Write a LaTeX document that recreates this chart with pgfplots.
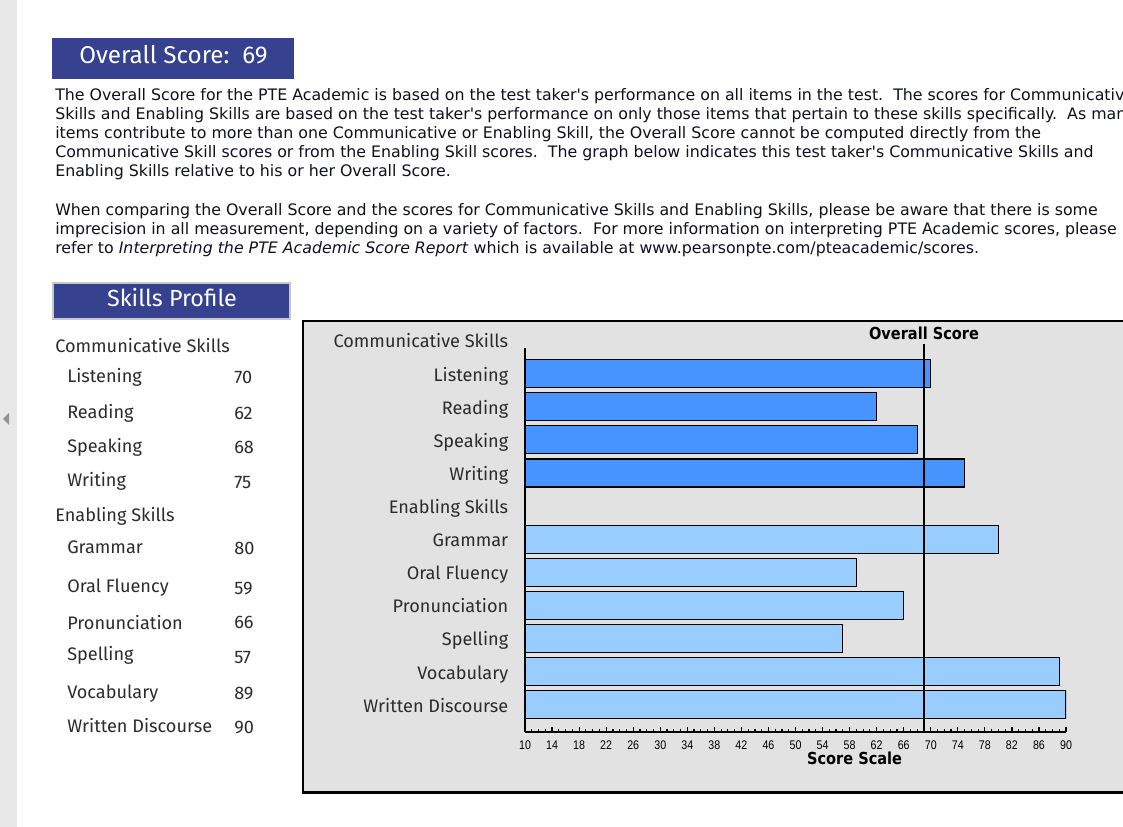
\documentclass[border=0pt]{standalone}
\usepackage{fontspec}
\usepackage{pgfplots}
\pgfplotsset{compat=1.18}
\setmainfont{DejaVu Sans}
\newfontfamily\tre{Fira Sans}
\newfontfamily\tah{DejaVu Sans}
\newfontfamily\tahb{DejaVu Sans}[FakeStretch=0.88]
\newfontfamily\ari{Liberation Sans}[FakeStretch=0.85]
\newcommand\fs[1]{\fontsize{#1}{#1}\selectfont}
\definecolor{hdr}{HTML}{364190}
\definecolor{panel}{HTML}{E2E2E2}
\definecolor{dk}{HTML}{4894FF}
\definecolor{lt}{HTML}{99CCFF}
\definecolor{lab}{HTML}{2C2C2C}
\definecolor{para}{HTML}{10101E}
\definecolor{strip}{HTML}{E8E8E8}
\definecolor{bord}{HTML}{C8C8C8}
\begin{document}
\begin{tikzpicture}[x=0.75pt,y=0.75pt]
\path[use as bounding box] (0,0) rectangle (1123,827);
\clip (0,0) rectangle (1123,827);
\fill[white] (0,0) rectangle (1123,827);
\fill[strip] (0,0) rectangle (17,827);
\fill[gray!85] (3,408) -- (9,414) -- (9,402) -- cycle;
% header
\fill[hdr] (52,789) rectangle (294,748);
\node[anchor=base, text=white, font=\tre\fs{18.2}, inner sep=0] at (173.5,763.7) {Overall Score:\ \ 69};
% paragraphs
\begin{scope}[every node/.style={anchor=base west, inner sep=0, font=\tah\fs{11.85}, text=para}]
\node at (55,726) {The Overall Score for the PTE Academic is based on the test taker's performance on all items in the test.\ \ The scores for Communicative};
\node at (55,707) {Skills and Enabling Skills are based on the test taker's performance on only those items that pertain to these skills specifically.\ \ As many};
\node at (55,688) {items contribute to more than one Communicative or Enabling Skill, the Overall Score cannot be computed directly from the};
\node at (55,669) {Communicative Skill scores or from the Enabling Skill scores.\ \ The graph below indicates this test taker's Communicative Skills and};
\node at (55,650) {Enabling Skills relative to his or her Overall Score.};
\node at (55,611) {When comparing the Overall Score and the scores for Communicative Skills and Enabling Skills, please be aware that there is some};
\node at (55,592) {imprecision in all measurement, depending on a variety of factors.\ \ For more information on interpreting PTE Academic scores, please};
\node at (55,573) {refer to \textit{Interpreting the PTE Academic Score Report} which is available at www.pearsonpte.com/pteacademic/scores.};
\end{scope}
% skills profile box
\filldraw[fill=hdr, draw=bord, line width=1.5pt] (52.7,544.3) rectangle (290,508);
\node[anchor=base, text=white, font=\tre\fs{17.5}, inner sep=0] at (172,520) {Skills Profile};
% left table
\begin{scope}[every node/.style={anchor=base west, inner sep=0, font=\tre\fs{13.6}, text=lab}]
\node at (55,474) {Communicative Skills};
\node at (55,305.5) {Enabling Skills};
\node at (67,444) {Listening};        \node at (234,443.7) {70};
\node at (67,408.5) {Reading};        \node at (234,407.5) {62};
\node at (67,374.5) {Speaking};       \node at (234,373.5) {68};
\node at (67,340.5) {Writing};        \node at (234,338.5) {75};
\node at (67,273.5) {Grammar};        \node at (234,272.5) {80};
\node at (67,234.5) {Oral Fluency};   \node at (234,232.5) {59};
\node at (67,197.7) {Pronunciation};  \node at (234,198) {66};
\node at (67,166) {Spelling};         \node at (234,163.7) {57};
\node at (67,128) {Vocabulary};       \node at (234,127) {89};
\node at (67,94.3) {Written Discourse}; \node at (234,93) {90};
\end{scope}
% chart panel
\filldraw[fill=panel, draw=black, line width=1.8pt] (302.8,505.8) rectangle (1135,34.5);
\coordinate (A) at (525,95.3);
\begin{axis}[
  at={(A)}, anchor=south west,
  x=5.0719pt, y=24.825pt,
  xmin=10, xmax=90, ymin=-10.816, ymax=0.785,
  axis x line*=bottom, axis y line*=left,
  axis line style={line width=1.5pt},
  xtick={10,14,...,90}, minor x tick num=3,
  tick align=inside,
  major tick length=3.75pt, minor tick length=2pt,
  tick style={black, line width=0.9pt},
  /pgf/number format/assume math mode=true,
  xticklabel style={font=\ari\fs{9.4}, anchor=base, yshift=-13.7pt, inner sep=0pt},
  ytick={0,-1,-2,-3,-4,-5,-6,-7,-8,-9,-10},
  yticklabels={Listening,Reading,Speaking,Writing,Enabling Skills,Grammar,Oral Fluency,Pronunciation,Spelling,Vocabulary,Written Discourse},
  y tick style={draw=none},
  yticklabel style={font=\tre\fs{13.6}, text=lab, anchor=base east, inner sep=0pt, xshift=-12.4pt, yshift=-5.6pt},
  clip mode=individual,
]
\addplot[xbar, bar width=0.846, bar shift=0pt, fill=dk, draw=black, line width=0.9pt] coordinates {(70,0) (62,-1) (68,-2) (75,-3)};
\addplot[xbar, bar width=0.846, bar shift=0pt, fill=lt, draw=black, line width=0.9pt] coordinates {(80,-5) (59,-6) (66,-7) (57,-8) (89,-9) (90,-10)};
\addplot[black, line width=0.8pt, clip=false] coordinates {(69,0.885) (69,-10.816)};
\node[anchor=base east, inner sep=0, font=\tre\fs{13.6}, text=lab, xshift=-12.4pt] at (axis cs:10,0.785) {Communicative Skills};
\node[anchor=base, inner sep=0, font=\tahb\bfseries\fs{12.4}, text=black] at (axis cs:69,1.036) {Overall Score};
\node[anchor=base, inner sep=0, font=\tahb\bfseries\fs{12.4}, text=black] at (axis cs:58.74,-11.82) {Score Scale};
\end{axis}
\end{tikzpicture}
\end{document}
